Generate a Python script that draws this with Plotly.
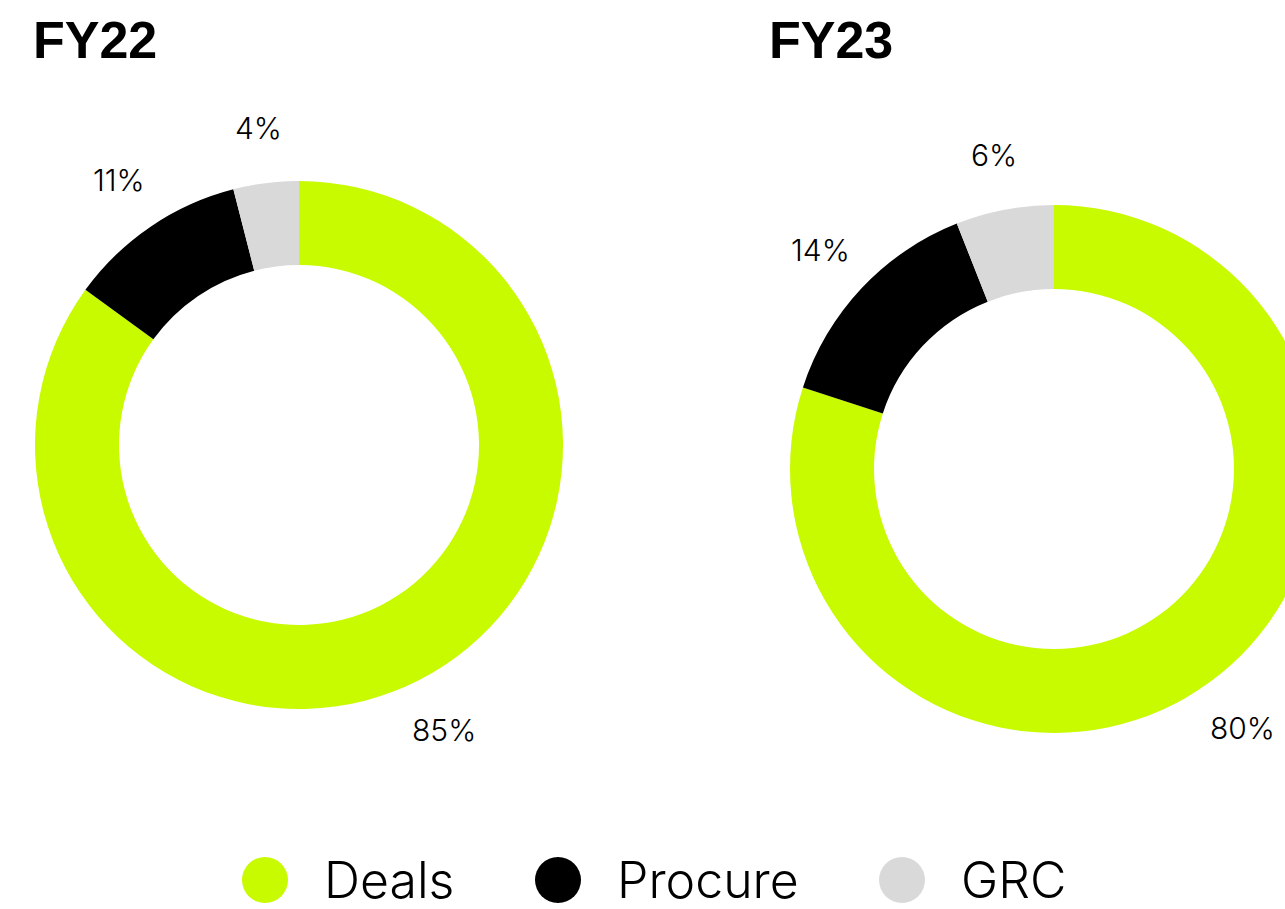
import math
import plotly.graph_objects as go

# ---- data ----
categories = ["Deals", "Procure", "GRC"]
fy22_values = [85, 11, 4]
fy23_values = [80, 14, 6]
chart_titles = ["FY22", "FY23"]
colors = ["#C8FA00", "#000000", "#D9D9D9"]

# ---- layout constants (pixels) ----
W, H = 1330, 909
R_OUT = 264
R_IN = 180
R_LAB = 320
centers = [(299, 445), (1054, 469)]
title_pos = [(31, 40), (767, 40)]
FONT = "Inter"
TITLE_FONT = "Liberation Sans"

def px_x(x):
    return x / W

def px_y(y):
    return 1 - y / H

fig = go.Figure()
annotations = []
series = [fy22_values, fy23_values]
for vals, (cx, cy), title, (tx, ty) in zip(series, centers, chart_titles, title_pos):
    fig.add_trace(go.Pie(
        labels=categories,
        values=vals,
        sort=False,
        direction="clockwise",
        rotation=0,
        hole=R_IN / R_OUT,
        marker=dict(colors=colors, line=dict(width=0)),
        textinfo="none",
        hoverinfo="label+percent",
        showlegend=False,
        domain=dict(x=[px_x(cx - R_OUT), px_x(cx + R_OUT)],
                    y=[px_y(cy + R_OUT), px_y(cy - R_OUT)]),
    ))
    total = sum(vals)
    cum = 0
    for v in vals:
        mid = (cum + v / 2) / total * 2 * math.pi
        cum += v
        lx = cx + R_LAB * math.sin(mid)
        ly = cy - R_LAB * math.cos(mid)
        annotations.append(dict(
            x=px_x(lx), y=px_y(ly), xref="paper", yref="paper",
            text=f"{round(v / total * 100)}%", showarrow=False,
            xanchor="center", yanchor="middle",
            font=dict(family=FONT, size=30, color="#000000", weight=300),
        ))
    annotations.append(dict(
        x=px_x(tx), y=px_y(ty), xref="paper", yref="paper",
        text=title, showarrow=False, xanchor="left", yanchor="middle",
        font=dict(family=TITLE_FONT, size=52, color="#000000", weight=700),
    ))

# ---- custom legend (large circular swatches) ----
legend_swatch_x = [265, 558, 902]
LEG_Y = 880
shapes = []
for name, col, sx in zip(categories, colors, legend_swatch_x):
    shapes.append(dict(
        type="circle", xref="paper", yref="paper",
        xsizemode="pixel", ysizemode="pixel",
        xanchor=px_x(sx), yanchor=px_y(LEG_Y),
        x0=-23, x1=23, y0=-23, y1=23,
        fillcolor=col, line=dict(width=0),
    ))
    annotations.append(dict(
        x=px_x(sx + 57), y=px_y(LEG_Y), xref="paper", yref="paper",
        text=name, showarrow=False, xanchor="left", yanchor="middle",
        font=dict(family=FONT, size=50, color="#000000", weight=300),
    ))

fig.update_layout(
    width=W, height=H,
    margin=dict(l=0, r=0, t=0, b=0),
    paper_bgcolor="white", plot_bgcolor="white",
    annotations=annotations,
    shapes=shapes,
    showlegend=False,
)

fig.write_html(
    "out.html",
    config={"displayModeBar": False},
    post_script="document.body.style.margin='0';document.body.style.overflow='hidden';",
)
